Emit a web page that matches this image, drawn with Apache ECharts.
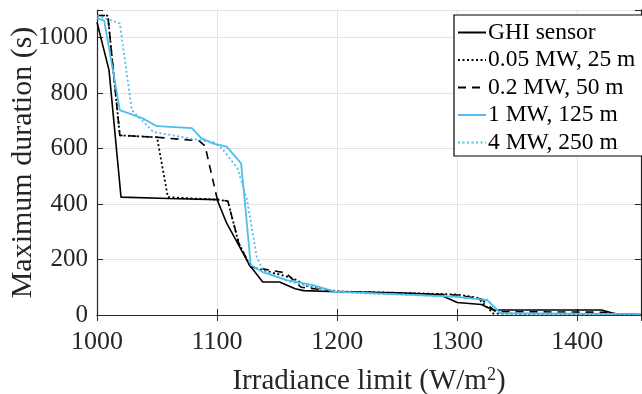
<!DOCTYPE html>
<html><head><meta charset="utf-8">
<script src="https://cdn.jsdelivr.net/npm/echarts@6/dist/echarts.min.js"></script>
<style>html,body{margin:0;padding:0;background:#fff}#c{width:642px;height:394px}</style>
</head><body><div id="c"></div>
<script>
const seriesNames = ['GHI sensor', '0.05 MW, 25 m', '0.2 MW, 50 m', '1 MW, 125 m', '4 MW, 250 m'];
const ghi = [[1000,1056],[1010,883],[1020,425],[1060,420],[1100,416],[1108,331],[1118,252],[1127,180],[1138,119],[1152,119],[1165,95],[1172,88],[1200,84],[1250,80],[1285,74],[1300,45],[1320,38],[1330,18],[1420,18],[1433,3],[1453,2]];
const mw005 = [[1000,1080],[1009,1080],[1019,648],[1050,641],[1059,425],[1100,416],[1109,410],[1118,259],[1128,173],[1140,160],[1163,133],[1175,104],[1200,85],[1250,80],[1300,74],[1317,62],[1330,5],[1420,3],[1453,2]];
const mw02 = [[1000,1080],[1009,1080],[1019,648],[1050,641],[1085,628],[1090,610],[1100,420],[1109,410],[1118,259],[1128,173],[1140,165],[1157,152],[1170,100],[1200,85],[1300,72],[1320,58],[1332,12],[1425,10],[1435,2],[1453,1]];
const mw1 = [[1000,1070],[1006,1062],[1019,739],[1038,709],[1050,681],[1079,674],[1087,637],[1097,618],[1108,607],[1120,547],[1123,414],[1128,180],[1138,155],[1158,126],[1180,108],[1198,84],[1297,66],[1325,54],[1336,7],[1453,3]];
const mw4 = [[1000,1080],[1019,1052],[1029,739],[1047,660],[1077,637],[1097,623],[1104,601],[1117,529],[1125,414],[1133,210],[1138,162],[1160,120],[1200,82],[1300,66],[1325,55],[1336,3],[1453,2]];
const xTicks = [1000, 1100, 1200, 1300, 1400];
const yTicks = [0, 200, 400, 600, 800, 1000];

const font = 'Liberation Serif, Times New Roman, serif';
const blue = '#4DBEEE';
const txt = '#262626';
const chart = echarts.init(document.getElementById('c'), null, {renderer: 'canvas'});
const axisCommon = {
  axisLine: {show: true, lineStyle: {color: txt, width: 1.2}},
  axisTick: {show: true, inside: true, length: 6, lineStyle: {color: txt, width: 1}},
};
chart.setOption({
  animation: false,
  backgroundColor: '#fff',
  grid: {left: 97, right: 1, top: 10, bottom: 79, containLabel: false, outerBoundsMode: 'none'},
  legend: {
    orient: 'vertical', left: 454, top: 15,
    backgroundColor: '#fff', borderColor: '#000', borderWidth: 1.2, borderRadius: 0,
    padding: [4, 12, 0, 3], itemGap: 0.5, itemWidth: 28, itemHeight: 14,
    itemStyle: {opacity: 0, borderWidth: 0},
    textStyle: {fontFamily: font, fontSize: 23.5, lineHeight: 27, color: '#000', padding: [0, 0, 0, -3]},
    data: seriesNames
  },
  xAxis: [
    Object.assign({type: 'value', min: 1000, max: 1453, interval: 100, position: 'bottom',
      axisLabel: {color: txt, fontFamily: font, fontSize: 26, margin: 14,
        customValues: xTicks, formatter: v => String(v)},
      splitLine: {show: true, lineStyle: {color: '#e3e3e3', width: 1}},
      name: 'Irradiance limit (W/m{sup|2})', nameLocation: 'middle', nameGap: 51, nameMoveOverlap: false,
      nameTextStyle: {color: txt, fontFamily: font, fontSize: 29,
        rich: {sup: {fontFamily: font, fontSize: 18, color: txt, verticalAlign: 'top', padding: [0, 0, 13, 0]}}}
    }, axisCommon),
    Object.assign({type: 'value', min: 1000, max: 1453, interval: 100, position: 'top',
      axisLabel: {show: false}, splitLine: {show: false}}, axisCommon)
  ],
  yAxis: [
    Object.assign({type: 'value', min: 0, max: 1100, interval: 200, position: 'left',
      axisLabel: {color: txt, fontFamily: font, fontSize: 25, margin: 9,
        customValues: yTicks, formatter: v => String(v)},
      splitLine: {show: true, lineStyle: {color: '#e3e3e3', width: 1}},
      name: 'Maximum duration (s)', nameLocation: 'middle', nameGap: 58.5, nameRotate: 90, nameMoveOverlap: false,
      nameTextStyle: {color: txt, fontFamily: font, fontSize: 30}
    }, axisCommon),
    Object.assign({type: 'value', min: 0, max: 1100, interval: 200, position: 'right',
      axisLabel: {show: false}, splitLine: {show: false}}, axisCommon)
  ],
  series: [
    {name: seriesNames[0], type: 'line', data: ghi, symbol: 'none', lineStyle: {color: '#000', width: 1.6, type: 'solid'}, itemStyle: {color: '#000'}},
    {name: seriesNames[1], type: 'line', data: mw005, symbol: 'none', lineStyle: {color: '#000', width: 1.8, type: [2, 2.5]}, itemStyle: {color: '#000'}},
    {name: seriesNames[2], type: 'line', data: mw02, symbol: 'none', lineStyle: {color: '#000', width: 1.6, type: [8, 6]}, itemStyle: {color: '#000'}},
    {name: seriesNames[3], type: 'line', data: mw1, symbol: 'none', lineStyle: {color: blue, width: 1.8, type: 'solid'}, itemStyle: {color: blue}},
    {name: seriesNames[4], type: 'line', data: mw4, symbol: 'none', lineStyle: {color: blue, width: 1.8, type: [2, 2.5]}, itemStyle: {color: blue}}
  ]
});
</script></body></html>
